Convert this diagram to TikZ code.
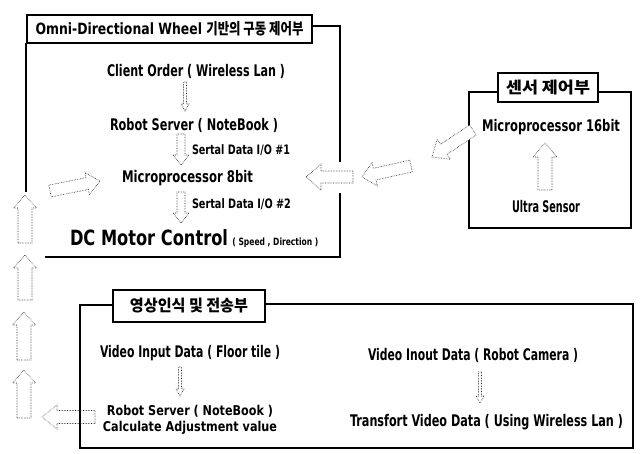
\documentclass[tikz,border=0pt]{standalone}
\usepackage{fontspec}
\setmainfont{DejaVu Sans}
\newfontfamily\kr{Noto Sans CJK KR}
\usetikzlibrary{calc}
\newcommand\fitw[2]{\resizebox{#1}{\height}{#2}}
\newcommand\barr[6][]{%
  \coordinate (#2#3n) at ($(#3)!#6!(#2)$);
  \draw[barrow,#1] ($(#2)!#4!90:(#3)$) -- ($(#2#3n)!#4!-90:(#2)$) -- ($(#2#3n)!#5!-90:(#2)$)
    -- (#3) -- ($(#2#3n)!#5!90:(#2)$) -- ($(#2#3n)!#4!90:(#2)$) -- ($(#2)!#4!-90:(#3)$) -- cycle;
}
\tikzset{
  frame/.style={line width=2.8pt},
  tbox/.style={draw, line width=2.8pt, fill=white, inner sep=0pt},
  lbl/.style={inner sep=0pt, font=\bfseries\fontsize{16}{17}\selectfont},
  lbls/.style={inner sep=0pt, font=\bfseries\fontsize{13.5}{14}\selectfont},
  sml/.style={inner sep=0pt, font=\bfseries\fontsize{13}{14}\selectfont},
  barrow/.style={densely dotted, line width=0.6pt, draw=black!85, fill=white},
}
\begin{document}
\begin{tikzpicture}[x=1pt,y=-1pt]
\useasboundingbox (0,0) rectangle (640,453);
\fill[white] (0,0) rectangle (640,453);

% ---------- frames ----------
\draw[frame] (26,43) -- (26,192);
\draw[frame] (312,26) -- (340,26) -- (340,162);
\draw[frame] (340,193) -- (340,257) -- (45,257);
\node[tbox, minimum width=285pt, minimum height=28pt] (t1) at (169.5,29)
  {\fitw{268pt}{\bfseries\fontsize{15.5}{16}\selectfont Omni-Directional Wheel {\kr\bfseries 기반의 구동 제어부}}};

\draw[frame] (498,92) -- (469,92) -- (469,228) -- (631,228) -- (631,92) -- (598,92);
\node[tbox, minimum width=100pt, minimum height=29pt] (t2) at (548,87.5)
  {\fitw{84pt}{\kr\bfseries\fontsize{16}{17}\selectfont 센서 제어부}};

\draw[frame] (113,305) -- (80,305) -- (80,448) -- (633,448) -- (633,304) -- (265,304);
\node[tbox, minimum width=152pt, minimum height=32pt] (t3) at (189,306)
  {\fitw{118pt}{\kr\bfseries\fontsize{16}{17}\selectfont 영상인식 및 전송부}};

% ---------- labels ----------
\node[lbl] (client) at (196,71) {\fitw{178pt}{Client Order ( Wireless Lan )}};
\node[lbl] (rs1) at (194,125) {\fitw{168pt}{Robot Server ( NoteBook )}};
\node[sml] (ser1) at (241,150) {\fitw{98pt}{Sertal Data I/O \#1}};
\node[lbl] (mp8) at (187.5,178) {\fitw{131pt}{Microprocessor 8bit}};
\node[sml] (ser2) at (241.5,204) {\fitw{99pt}{Sertal Data I/O \#2}};
\node[inner sep=0pt, font=\bfseries\fontsize{21}{23}\selectfont] (dc) at (149,238) {\fitw{158pt}{DC Motor Control}};
\node[inner sep=0pt, font=\bfseries\fontsize{10}{11}\selectfont, anchor=base west] (speed) at ($(dc.base east)+(4,0)$) {\fitw{86pt}{( Speed , Direction )}};

\node[lbl] (mp16) at (551,127) {\fitw{138pt}{Microprocessor 16bit}};
\node[lbl] (ultra) at (546,207) {\fitw{68pt}{Ultra Sensor}};

\node[lbl] (vid1) at (190,353) {\fitw{180pt}{Video Input Data ( Floor tile )}};
\node[lbls] (rs2) at (190,411) {\fitw{166pt}{Robot Server ( NoteBook )}};
\node[lbls] (calc) at (190,428) {\fitw{174pt}{Calculate Adjustment value}};
\node[lbl] (vid2) at (473,355) {\fitw{210pt}{Video Inout Data ( Robot Camera )}};
\node[lbl] (trans) at (486.5,422) {\fitw{273pt}{Transfort Video Data ( Using Wireless Lan )}};

% ---------- arrow end points ----------
\coordinate (e1t) at (185,82);  \coordinate (e1h) at (185,111);
\coordinate (d1t) at (181,134); \coordinate (d1h) at (181,165);
\coordinate (d2t) at (181,192); \coordinate (d2h) at (181,223);
\coordinate (e2t) at (180,367); \coordinate (e2h) at (180,396);
\coordinate (e3t) at (480,372); \coordinate (e3h) at (480,403);
\coordinate (c1t) at (25,243);  \coordinate (c1h) at (25,195);
\coordinate (c2t) at (25,300);  \coordinate (c2h) at (25,255);
\coordinate (c3t) at (24,360);  \coordinate (c3h) at (24,312);
\coordinate (c4t) at (24,418);  \coordinate (c4h) at (24,370);
\coordinate (b1t) at (95,417);  \coordinate (b1h) at (42,417);
\coordinate (a1t) at (50,191);  \coordinate (a1h) at (100,181);
\coordinate (r1t) at (353,177); \coordinate (r1h) at (306,177);
\coordinate (r2t) at (411,166); \coordinate (r2h) at (362,177);
\coordinate (r3t) at (473,130); \coordinate (r3h) at (432,157);
\coordinate (s1t) at (545,190); \coordinate (s1h) at (545,143);

% ---------- block arrows ----------
\barr{e1t}{e1h}{1.5pt}{4pt}{7pt}
\barr{d1t}{d1h}{4pt}{8pt}{10pt}
\barr{d2t}{d2h}{4pt}{8pt}{10pt}
\barr{e2t}{e2h}{1.5pt}{4pt}{7pt}
\barr{e3t}{e3h}{1.5pt}{4pt}{7pt}
\barr{c1t}{c1h}{7pt}{11.5pt}{13pt}
\barr{c2t}{c2h}{7pt}{11.5pt}{13pt}
\barr{c3t}{c3h}{7pt}{11.5pt}{13pt}
\barr{c4t}{c4h}{7pt}{11.5pt}{13pt}
\barr[fill=none]{b1t}{b1h}{6.5pt}{12pt}{15pt}
\barr{a1t}{a1h}{6pt}{11pt}{13pt}
\barr{r1t}{r1h}{6pt}{13pt}{15pt}
\barr{r2t}{r2h}{6pt}{12pt}{13pt}
\barr{r3t}{r3h}{6pt}{12pt}{14pt}
\barr{s1t}{s1h}{7pt}{12pt}{14pt}
\end{tikzpicture}
\end{document}
